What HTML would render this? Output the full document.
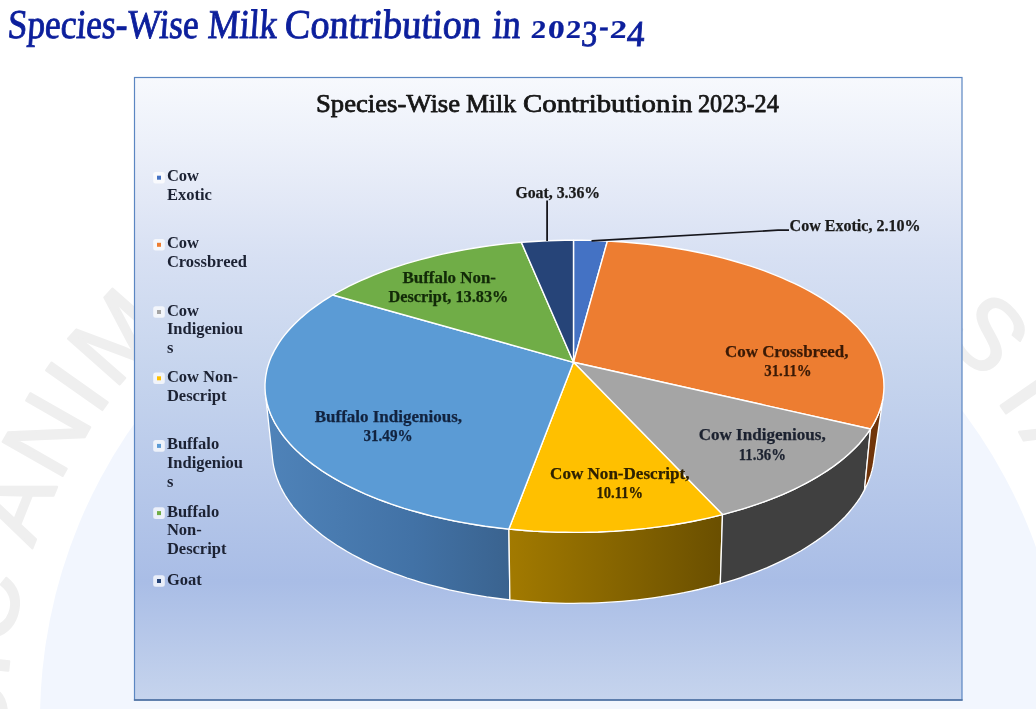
<!DOCTYPE html>
<html lang="en"><head><meta charset="utf-8"><title>Species-Wise Milk Contribution in 2023-24</title>
<style>html,body{margin:0;padding:0;background:#fff;}body{width:1036px;height:709px;overflow:hidden;position:relative;font-family:"Liberation Serif",serif;}svg{display:block;position:absolute;left:0;top:0;}text{font-family:"Liberation Serif",serif;}</style></head><body>
<svg width="1036" height="709" viewBox="0 0 1036 709">
<defs>
<linearGradient id="bg" x1="0" y1="0" x2="0" y2="1">
<stop offset="0" stop-color="#f7f9fd"/>
<stop offset="0.1" stop-color="#edf1fa"/>
<stop offset="0.2" stop-color="#e2e8f6"/>
<stop offset="0.29" stop-color="#d7e0f3"/>
<stop offset="0.45" stop-color="#c8d6ee"/>
<stop offset="0.81" stop-color="#a9bde6"/>
<stop offset="1" stop-color="#c6d4ed"/>
</linearGradient>
<linearGradient id="sblue" x1="0" y1="0" x2="1" y2="0">
<stop offset="0" stop-color="#4f83b9"/>
<stop offset="0.6" stop-color="#4272a6"/>
<stop offset="1" stop-color="#3a638f"/>
</linearGradient>
<linearGradient id="syel" x1="0" y1="0" x2="1" y2="0">
<stop offset="0" stop-color="#a27a00"/>
<stop offset="1" stop-color="#6a4f00"/>
</linearGradient>
</defs>
<path id="wm" fill="none" d="M 553.0 1267.0 A 547.0 547.0 0 1 1 553.0 173.0 A 547.0 547.0 0 1 1 553.0 1267.0"/>
<circle cx="553" cy="720" r="513" fill="#f2f6fe"/>
<text fill="#efefef" stroke="#efefef" stroke-width="2.2" stroke-linejoin="round" style="font-family:'Liberation Sans',sans-serif" font-size="100" letter-spacing="3.8"><textPath href="#wm" startOffset="687.9">BASIC ANIMAL HUSBANDRY STATISTICS</textPath></text>
<text transform="translate(0 38) skewX(-4)" fill="#0c1f9c" stroke="#0c1f9c"><tspan x="7.0" y="0.0" font-size="41.0" font-weight="normal" stroke-width="0.9" textLength="191.0" lengthAdjust="spacingAndGlyphs">Species-Wise</tspan> <tspan x="207.2" y="0.0" font-size="41.0" font-weight="normal" stroke-width="0.9" textLength="69.3" lengthAdjust="spacingAndGlyphs">Milk</tspan> <tspan x="284.0" y="0.0" font-size="41.0" font-weight="normal" stroke-width="0.9" textLength="196.5" lengthAdjust="spacingAndGlyphs">Contribution</tspan> <tspan x="492.0" y="0.0" font-size="41.0" font-weight="normal" stroke-width="0.9" textLength="28.0" lengthAdjust="spacingAndGlyphs">in</tspan> <tspan x="530.6" y="0.1" font-size="25.5" font-weight="bold" stroke-width="0.2" textLength="15.2" lengthAdjust="spacingAndGlyphs">2</tspan><tspan x="547.2" y="0.1" font-size="25.5" font-weight="bold" stroke-width="0.2" textLength="17.0" lengthAdjust="spacingAndGlyphs">0</tspan><tspan x="565.6" y="0.1" font-size="25.5" font-weight="bold" stroke-width="0.2" textLength="15.2" lengthAdjust="spacingAndGlyphs">2</tspan><tspan x="581.4" y="7.9" font-size="36.5" font-weight="normal" stroke-width="0.9" textLength="15.8" lengthAdjust="spacingAndGlyphs">3</tspan><tspan x="598.4" y="-0.7" font-size="34.0" font-weight="normal" stroke-width="0.5" textLength="9.6" lengthAdjust="spacingAndGlyphs">-</tspan><tspan x="609.6" y="0.1" font-size="25.5" font-weight="bold" stroke-width="0.2" textLength="16.8" lengthAdjust="spacingAndGlyphs">2</tspan><tspan x="626.8" y="7.9" font-size="36.5" font-weight="normal" stroke-width="0.9" textLength="17.6" lengthAdjust="spacingAndGlyphs">4</tspan></text>
<rect x="134.5" y="77.5" width="827.5" height="622.5" fill="url(#bg)" stroke="#5b86c2" stroke-width="1.2"/>
<text y="111.8" font-size="25" fill="#161616" stroke="#161616" stroke-width="0.75" stroke-linejoin="round"><tspan x="316.0" textLength="144.0" lengthAdjust="spacingAndGlyphs">Species-Wise</tspan> <tspan x="466.0" textLength="50.0" lengthAdjust="spacingAndGlyphs">Milk</tspan> <tspan x="523.0" textLength="147.3" lengthAdjust="spacingAndGlyphs">Contribution</tspan> <tspan x="671.3" textLength="21.1" lengthAdjust="spacingAndGlyphs">in</tspan> <tspan x="698.0" textLength="80.8" lengthAdjust="spacingAndGlyphs">2023-24</tspan></text>
<path d="M 133.9 700.0 L 962.6 700.0" stroke="#4f719f" stroke-width="1.3" fill="none"/>
<path d="M 265.4 393.7 L 265.9 397.6 L 266.7 401.5 L 267.6 405.3 L 268.8 409.2 L 270.2 413.0 L 271.8 416.8 L 273.7 420.6 L 275.7 424.4 L 278.0 428.2 L 280.4 431.9 L 283.1 435.6 L 286.0 439.2 L 289.1 442.8 L 292.4 446.4 L 295.9 449.9 L 299.6 453.4 L 303.5 456.8 L 307.6 460.2 L 311.8 463.6 L 316.3 466.8 L 320.9 470.1 L 325.7 473.2 L 330.7 476.3 L 335.9 479.4 L 341.3 482.3 L 346.8 485.2 L 352.4 488.1 L 358.3 490.8 L 364.2 493.5 L 370.4 496.1 L 376.6 498.6 L 383.1 501.1 L 389.6 503.5 L 396.3 505.8 L 403.1 508.0 L 410.0 510.1 L 417.1 512.1 L 424.2 514.0 L 431.5 515.9 L 438.9 517.6 L 446.4 519.3 L 453.9 520.9 L 461.6 522.3 L 469.3 523.7 L 477.1 525.0 L 484.9 526.1 L 492.9 527.2 L 500.9 528.2 L 508.9 529.1 L 509.9 599.9 L 502.1 599.0 L 494.3 598.0 L 486.6 596.9 L 479.0 595.6 L 471.4 594.3 L 463.9 592.9 L 456.5 591.4 L 449.2 589.8 L 441.9 588.0 L 434.7 586.2 L 427.7 584.3 L 420.7 582.3 L 413.9 580.2 L 407.1 578.0 L 400.5 575.7 L 394.0 573.4 L 387.6 570.9 L 381.4 568.4 L 375.3 565.8 L 369.3 563.1 L 363.5 560.3 L 357.8 557.4 L 352.3 554.5 L 347.0 551.5 L 341.8 548.4 L 336.7 545.3 L 331.9 542.0 L 327.1 538.8 L 322.6 535.4 L 318.3 532.0 L 314.1 528.6 L 310.1 525.1 L 306.3 521.5 L 302.7 517.9 L 299.3 514.2 L 296.1 510.5 L 293.0 506.8 L 290.2 503.0 L 287.6 499.2 L 285.1 495.3 L 282.9 491.4 L 280.9 487.5 L 279.1 483.5 L 277.5 479.6 L 276.1 475.6 L 274.9 471.6 L 273.9 467.6 L 273.1 463.5 L 272.6 459.5 Z" fill="url(#sblue)" stroke="#fff" stroke-width="1.3" stroke-linejoin="round" />
<path d="M 508.9 529.1 L 516.9 529.8 L 524.9 530.5 L 533.0 531.1 L 541.1 531.5 L 549.2 531.9 L 557.4 532.2 L 565.5 532.3 L 573.7 532.4 L 581.9 532.4 L 590.0 532.2 L 598.2 532.0 L 606.3 531.6 L 614.4 531.2 L 622.5 530.6 L 630.5 530.0 L 638.5 529.2 L 646.5 528.4 L 654.4 527.4 L 662.3 526.4 L 670.1 525.3 L 677.8 524.0 L 685.5 522.7 L 693.1 521.3 L 700.6 519.7 L 708.0 518.1 L 715.3 516.4 L 722.5 514.6 L 720.3 583.9 L 713.2 585.9 L 706.0 587.7 L 698.7 589.5 L 691.4 591.1 L 683.9 592.7 L 676.4 594.1 L 668.8 595.4 L 661.1 596.7 L 653.4 597.8 L 645.6 598.8 L 637.8 599.8 L 629.9 600.6 L 621.9 601.3 L 614.0 601.9 L 606.0 602.4 L 598.0 602.8 L 589.9 603.1 L 581.9 603.2 L 573.8 603.3 L 565.8 603.3 L 557.7 603.1 L 549.7 602.8 L 541.7 602.5 L 533.7 602.0 L 525.7 601.4 L 517.8 600.7 L 509.9 599.9 Z" fill="url(#syel)" stroke="#fff" stroke-width="1.3" stroke-linejoin="round" />
<path d="M 722.5 514.6 L 729.7 512.7 L 736.8 510.7 L 743.8 508.6 L 750.7 506.4 L 757.4 504.2 L 764.0 501.8 L 770.5 499.4 L 776.9 496.8 L 783.0 494.3 L 789.1 491.6 L 795.0 488.8 L 800.7 486.0 L 806.3 483.1 L 811.7 480.2 L 816.9 477.1 L 822.0 474.0 L 826.9 470.9 L 831.6 467.7 L 836.1 464.4 L 840.4 461.1 L 844.5 457.7 L 848.5 454.2 L 852.2 450.8 L 855.8 447.2 L 859.2 443.7 L 862.3 440.0 L 865.2 436.4 L 868.0 432.7 L 870.5 429.0 L 864.5 489.9 L 862.3 493.9 L 860.0 497.8 L 857.4 501.6 L 854.6 505.4 L 851.6 509.2 L 848.4 513.0 L 845.1 516.7 L 841.5 520.3 L 837.7 523.9 L 833.8 527.5 L 829.6 531.0 L 825.3 534.4 L 820.8 537.8 L 816.1 541.1 L 811.3 544.3 L 806.3 547.5 L 801.1 550.7 L 795.7 553.7 L 790.2 556.7 L 784.5 559.6 L 778.7 562.4 L 772.8 565.1 L 766.7 567.8 L 760.4 570.3 L 754.0 572.8 L 747.5 575.2 L 740.9 577.6 L 734.1 579.8 L 727.3 581.9 L 720.3 583.9 Z" fill="#404040" stroke="#fff" stroke-width="1.3" stroke-linejoin="round" />
<path d="M 870.5 429.0 L 873.0 425.0 L 875.2 420.9 L 877.1 416.9 L 878.9 412.8 L 880.4 408.7 L 881.6 404.5 L 882.6 400.4 L 883.3 396.2 L 873.7 462.2 L 873.0 466.2 L 872.1 470.2 L 871.0 474.2 L 869.7 478.1 L 868.2 482.1 L 866.4 486.0 L 864.5 489.9 Z" fill="#70340a" stroke="#fff" stroke-width="1.3" stroke-linejoin="round" />
<path d="M 573.5 362.3 L 573.5 240.2 L 582.0 240.2 L 590.5 240.4 L 598.9 240.7 L 607.4 241.0 Z" fill="#4472c4" stroke="#fff" stroke-width="1.4" stroke-linejoin="round" />
<path d="M 573.5 362.3 L 607.4 241.0 L 615.5 241.5 L 623.5 242.0 L 631.5 242.7 L 639.5 243.5 L 647.4 244.3 L 655.3 245.3 L 663.1 246.3 L 670.9 247.5 L 678.6 248.7 L 686.2 250.0 L 693.8 251.5 L 701.2 253.0 L 708.6 254.6 L 715.9 256.3 L 723.1 258.1 L 730.2 260.0 L 737.1 262.0 L 744.0 264.1 L 750.7 266.2 L 757.4 268.4 L 763.9 270.7 L 770.2 273.1 L 776.5 275.6 L 782.6 278.1 L 788.5 280.8 L 794.3 283.4 L 800.0 286.2 L 805.4 289.0 L 810.8 291.9 L 816.0 294.9 L 821.0 297.9 L 825.8 301.0 L 830.5 304.2 L 834.9 307.4 L 839.2 310.6 L 843.4 313.9 L 847.3 317.3 L 851.0 320.7 L 854.6 324.2 L 858.0 327.6 L 861.1 331.2 L 864.1 334.8 L 866.9 338.4 L 869.4 342.0 L 871.8 345.7 L 874.0 349.4 L 875.9 353.1 L 877.7 356.9 L 879.2 360.6 L 880.5 364.4 L 881.6 368.2 L 882.5 372.0 L 883.2 375.9 L 883.7 379.7 L 883.9 383.5 L 884.0 387.4 L 883.8 391.2 L 883.4 395.1 L 882.9 398.9 L 882.0 402.7 L 881.0 406.5 L 879.8 410.3 L 878.4 414.1 L 876.7 417.8 L 874.8 421.6 L 872.8 425.3 L 870.5 429.0 Z" fill="#ed7d31" stroke="#fff" stroke-width="1.4" stroke-linejoin="round" />
<path d="M 573.5 362.3 L 870.5 429.0 L 868.0 432.7 L 865.2 436.4 L 862.3 440.0 L 859.2 443.7 L 855.8 447.2 L 852.2 450.8 L 848.5 454.2 L 844.5 457.7 L 840.4 461.1 L 836.1 464.4 L 831.6 467.7 L 826.9 470.9 L 822.0 474.0 L 816.9 477.1 L 811.7 480.2 L 806.3 483.1 L 800.7 486.0 L 795.0 488.8 L 789.1 491.6 L 783.0 494.3 L 776.9 496.8 L 770.5 499.4 L 764.0 501.8 L 757.4 504.2 L 750.7 506.4 L 743.8 508.6 L 736.8 510.7 L 729.7 512.7 L 722.5 514.6 Z" fill="#a5a5a5" stroke="#fff" stroke-width="1.4" stroke-linejoin="round" />
<path d="M 573.5 362.3 L 722.5 514.6 L 715.3 516.4 L 708.0 518.1 L 700.6 519.7 L 693.1 521.3 L 685.5 522.7 L 677.8 524.0 L 670.1 525.3 L 662.3 526.4 L 654.4 527.4 L 646.5 528.4 L 638.5 529.2 L 630.5 530.0 L 622.5 530.6 L 614.4 531.2 L 606.3 531.6 L 598.2 532.0 L 590.0 532.2 L 581.9 532.4 L 573.7 532.4 L 565.5 532.3 L 557.4 532.2 L 549.2 531.9 L 541.1 531.5 L 533.0 531.1 L 524.9 530.5 L 516.9 529.8 L 508.9 529.1 Z" fill="#ffc000" stroke="#fff" stroke-width="1.4" stroke-linejoin="round" />
<path d="M 573.5 362.3 L 508.9 529.1 L 500.9 528.2 L 493.0 527.2 L 485.2 526.2 L 477.4 525.0 L 469.7 523.8 L 462.0 522.4 L 454.5 521.0 L 447.0 519.4 L 439.6 517.8 L 432.3 516.1 L 425.1 514.2 L 418.0 512.3 L 411.0 510.3 L 404.1 508.3 L 397.4 506.1 L 390.7 503.9 L 384.2 501.5 L 377.8 499.1 L 371.6 496.6 L 365.5 494.1 L 359.6 491.4 L 353.8 488.7 L 348.1 485.9 L 342.6 483.1 L 337.3 480.1 L 332.1 477.2 L 327.1 474.1 L 322.3 471.0 L 317.7 467.8 L 313.2 464.6 L 308.9 461.3 L 304.8 458.0 L 300.9 454.6 L 297.2 451.2 L 293.6 447.7 L 290.3 444.2 L 287.2 440.6 L 284.2 437.0 L 281.5 433.4 L 279.0 429.7 L 276.7 426.0 L 274.5 422.3 L 272.6 418.5 L 270.9 414.8 L 269.4 411.0 L 268.2 407.2 L 267.1 403.4 L 266.3 399.5 L 265.6 395.7 L 265.2 391.8 L 265.0 388.0 L 265.0 384.1 L 265.3 380.3 L 265.7 376.4 L 266.4 372.6 L 267.2 368.7 L 268.3 364.9 L 269.6 361.1 L 271.1 357.3 L 272.9 353.6 L 274.8 349.8 L 277.0 346.1 L 279.3 342.4 L 281.9 338.7 L 284.6 335.1 L 287.6 331.5 L 290.7 328.0 L 294.1 324.4 L 297.7 321.0 L 301.4 317.6 L 305.3 314.2 L 309.5 310.8 L 313.8 307.6 L 318.3 304.4 L 322.9 301.2 L 327.8 298.1 L 332.8 295.0 Z" fill="#5b9bd5" stroke="#fff" stroke-width="1.4" stroke-linejoin="round" />
<path d="M 573.5 362.3 L 332.8 295.0 L 338.1 292.0 L 343.5 289.1 L 349.1 286.2 L 354.9 283.4 L 360.8 280.6 L 366.9 278.0 L 373.1 275.4 L 379.5 272.9 L 386.0 270.4 L 392.6 268.1 L 399.4 265.8 L 406.3 263.7 L 413.3 261.6 L 420.5 259.6 L 427.7 257.7 L 435.1 255.9 L 442.5 254.1 L 450.1 252.5 L 457.7 251.0 L 465.5 249.6 L 473.3 248.2 L 481.1 247.0 L 489.1 245.9 L 497.1 244.8 L 505.1 243.9 L 513.2 243.1 L 521.4 242.4 Z" fill="#70ad47" stroke="#fff" stroke-width="1.4" stroke-linejoin="round" />
<path d="M 573.5 362.3 L 521.4 242.4 L 530.0 241.7 L 538.7 241.2 L 547.4 240.8 L 556.1 240.5 L 564.8 240.3 L 573.5 240.2 Z" fill="#264478" stroke="#fff" stroke-width="1.4" stroke-linejoin="round" />
<path d="M 547.1 200.5 L 547.1 241" stroke="#16161c" stroke-width="1.8" fill="none"/>
<path d="M 591.5 240.9 L 778 230.2 L 789 230.2" stroke="#16161c" stroke-width="1.7" fill="none"/>
<text font-weight="bold" font-size="16.5" fill="#1a1a1a" stroke="#1a1a1a" stroke-width="0.25"><tspan x="515.4" y="197.6" textLength="84.8" lengthAdjust="spacingAndGlyphs">Goat, 3.36%</tspan></text>
<text font-weight="bold" font-size="16.5" fill="#1a1a1a" stroke="#1a1a1a" stroke-width="0.25"><tspan x="789.6" y="230.5" textLength="131.0" lengthAdjust="spacingAndGlyphs">Cow Exotic, 2.10%</tspan></text>
<text font-weight="bold" font-size="16.5" fill="#122a08" stroke="#122a08" stroke-width="0.25"><tspan x="402.5" y="282.9" textLength="93.5" lengthAdjust="spacingAndGlyphs">Buffalo Non-</tspan><tspan x="388.5" y="301.5" textLength="119.9" lengthAdjust="spacingAndGlyphs">Descript, 13.83%</tspan></text>
<text font-weight="bold" font-size="16.5" fill="#12233f" stroke="#12233f" stroke-width="0.25"><tspan x="314.7" y="421.7" textLength="147.3" lengthAdjust="spacingAndGlyphs">Buffalo Indigenious,</tspan> <tspan x="363.4" y="441.3" textLength="49.2" lengthAdjust="spacingAndGlyphs">31.49%</tspan></text>
<text font-weight="bold" font-size="16.5" fill="#2e2100" stroke="#2e2100" stroke-width="0.25"><tspan x="550.1" y="479.4" textLength="139.3" lengthAdjust="spacingAndGlyphs">Cow Non-Descript,</tspan> <tspan x="596.5" y="498.0" textLength="46.5" lengthAdjust="spacingAndGlyphs">10.11%</tspan></text>
<text font-weight="bold" font-size="16.5" fill="#1c2230" stroke="#1c2230" stroke-width="0.25"><tspan x="698.7" y="440.2" textLength="127.0" lengthAdjust="spacingAndGlyphs">Cow Indigenious,</tspan> <tspan x="738.8" y="459.8" textLength="47.2" lengthAdjust="spacingAndGlyphs">11.36%</tspan></text>
<text font-weight="bold" font-size="16.5" fill="#3a1a06" stroke="#3a1a06" stroke-width="0.25"><tspan x="725.0" y="357.1" textLength="123.5" lengthAdjust="spacingAndGlyphs">Cow Crossbreed,</tspan> <tspan x="764.3" y="376.3" textLength="47.3" lengthAdjust="spacingAndGlyphs">31.11%</tspan></text>
<rect x="153.2" y="171.9" width="11.6" height="11.6" rx="2.5" fill="#fff" opacity="0.75"/>
<rect x="157" y="175.7" width="4" height="4" fill="#4472c4"/>
<text font-weight="bold" font-size="16.5" fill="#1c2233"><tspan x="166.9" y="181.2">Cow</tspan> <tspan x="166.9" y="199.9">Exotic</tspan></text>
<rect x="153.2" y="239.0" width="11.6" height="11.6" rx="2.5" fill="#fff" opacity="0.75"/>
<rect x="157" y="242.8" width="4" height="4" fill="#ed7d31"/>
<text font-weight="bold" font-size="16.5" fill="#1c2233"><tspan x="166.9" y="248.3">Cow</tspan> <tspan x="166.9" y="267.0">Crossbreed</tspan></text>
<rect x="153.2" y="306.2" width="11.6" height="11.6" rx="2.5" fill="#fff" opacity="0.75"/>
<rect x="157" y="310.0" width="4" height="4" fill="#a5a5a5"/>
<text font-weight="bold" font-size="16.5" fill="#1c2233"><tspan x="166.9" y="315.5">Cow</tspan> <tspan x="166.9" y="334.2">Indigeniou</tspan><tspan x="166.9" y="352.9">s</tspan></text>
<rect x="153.2" y="372.5" width="11.6" height="11.6" rx="2.5" fill="#fff" opacity="0.75"/>
<rect x="157" y="376.3" width="4" height="4" fill="#ffc000"/>
<text font-weight="bold" font-size="16.5" fill="#1c2233"><tspan x="166.9" y="381.8">Cow Non-</tspan><tspan x="166.9" y="400.5">Descript</tspan></text>
<rect x="153.2" y="440.1" width="11.6" height="11.6" rx="2.5" fill="#fff" opacity="0.75"/>
<rect x="157" y="443.9" width="4" height="4" fill="#5b9bd5"/>
<text font-weight="bold" font-size="16.5" fill="#1c2233"><tspan x="166.9" y="449.4">Buffalo</tspan> <tspan x="166.9" y="468.1">Indigeniou</tspan><tspan x="166.9" y="486.8">s</tspan></text>
<rect x="153.2" y="507.3" width="11.6" height="11.6" rx="2.5" fill="#fff" opacity="0.75"/>
<rect x="157" y="511.1" width="4" height="4" fill="#70ad47"/>
<text font-weight="bold" font-size="16.5" fill="#1c2233"><tspan x="166.9" y="516.6">Buffalo</tspan> <tspan x="166.9" y="535.3">Non-</tspan><tspan x="166.9" y="554.0">Descript</tspan></text>
<rect x="153.2" y="575.2" width="11.6" height="11.6" rx="2.5" fill="#fff" opacity="0.75"/>
<rect x="157" y="579.0" width="4" height="4" fill="#264478"/>
<text font-weight="bold" font-size="16.5" fill="#1c2233"><tspan x="166.9" y="584.5">Goat</tspan></text>
</svg></body></html>
